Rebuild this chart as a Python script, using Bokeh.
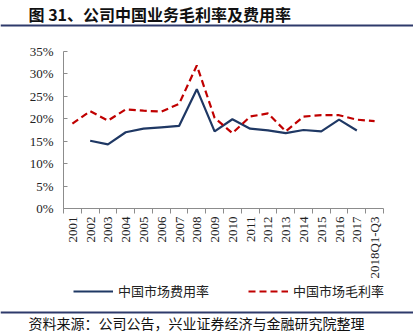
from bokeh.plotting import figure
from bokeh.layouts import column
from bokeh.models import (Range1d, FixedTicker, ColumnDataSource, Span,
                          PrintfTickFormatter, Label, Legend, LegendItem)
from bokeh.embed import file_html
from bokeh.resources import INLINE
from math import pi

# ---- data ----
years = ["2001", "2002", "2003", "2004", "2005", "2006", "2007", "2008", "2009",
         "2010", "2011", "2012", "2013", "2014", "2015", "2016", "2017", "2018Q1-Q3"]
gross_margin = [18.9, 21.7, 19.6, 22.1, 21.8, 21.6, 23.3, 31.9, 20.2,
                16.8, 20.5, 21.2, 17.2, 20.5, 20.8, 20.8, 19.8, 19.5]
expense_years = ["2002", "2003", "2004", "2005", "2006", "2007", "2008", "2009",
                 "2010", "2011", "2012", "2013", "2014", "2015", "2016", "2017"]
expense_ratio = [15.1, 14.3, 17.0, 17.8, 18.1, 18.4, 26.6, 17.2,
                 19.9, 17.8, 17.4, 16.8, 17.5, 17.2, 19.8, 17.4]
y_ticks = [0, 5, 10, 15, 20, 25, 30, 35]

title_text = "图 31、公司中国业务毛利率及费用率"
footer_text = "资料来源：公司公告，兴业证券经济与金融研究院整理"
expense_name = "中国市场费用率"
margin_name = "中国市场毛利率"

BLUE = "#1F3864"
RED = "#C00000"
GRAY = "#8C8C8C"
RULE = "#2E3A6B"
SERIF = "Liberation Serif"
CJK = "Noto Sans CJK SC"
W = 413
EXP_STYLE = dict(line_color=BLUE, line_width=2.2)
GM_STYLE = dict(line_color=RED, line_width=2.2, line_dash="7 4")
NAN = float("nan")


def blank(height):
    f = figure(width=W, height=height, x_range=Range1d(0, W), y_range=Range1d(height, 0),
               output_backend="svg", toolbar_location=None,
               x_axis_location=None, y_axis_location=None,
               min_border_left=0, min_border_right=0,
               min_border_top=0, min_border_bottom=0, frame_align=False)
    f.outline_line_color = None
    f.xgrid.visible = False
    f.ygrid.visible = False
    return f


# ---- header: title + rule ----
top = blank(40)
top.add_layout(Label(x=28, y=13, text=title_text, text_font=CJK, text_font_style="bold",
                     text_font_size="16px", text_color="#111111", text_baseline="middle"))
top.add_layout(Span(location=25, dimension="width", line_color=RULE, line_width=2))

# ---- main chart ----
slot = {y: i + 0.5 for i, y in enumerate(years)}
src_gm = ColumnDataSource(dict(x=[slot[y] for y in years], y=gross_margin))
src_exp = ColumnDataSource(dict(x=[slot[y] for y in expense_years], y=expense_ratio))

p = figure(width=W, height=244, x_range=Range1d(0, len(years)), y_range=Range1d(0, 35),
           output_backend="svg", toolbar_location=None, frame_align=False,
           min_border_left=63, min_border_right=30, min_border_top=11, min_border_bottom=76)
p.outline_line_color = None
p.xgrid.visible = False
p.ygrid.visible = False

ya = p.yaxis[0]
ya.ticker = FixedTicker(ticks=y_ticks)
ya.formatter = PrintfTickFormatter(format="%d%%")
ya.axis_line_color = GRAY
ya.major_tick_line_color = GRAY
ya.major_tick_in = 4
ya.major_tick_out = 0
ya.minor_tick_line_color = None
ya.major_label_text_font = SERIF
ya.major_label_text_font_size = "13px"
ya.major_label_text_color = "#222222"
ya.major_label_standoff = 10

xa = p.xaxis[0]
xa.ticker = FixedTicker(ticks=[slot[y] for y in years],
                        minor_ticks=list(range(len(years) + 1)))
xa.major_label_overrides = {slot[y]: y for y in years}
xa.axis_line_color = GRAY
xa.major_tick_line_color = None
xa.major_tick_in = 0
xa.major_tick_out = 5
xa.minor_tick_line_color = GRAY
xa.minor_tick_in = 0
xa.minor_tick_out = 5
xa.major_label_orientation = pi / 2
xa.major_label_standoff = 3
xa.major_label_text_font = SERIF
xa.major_label_text_font_size = "13px"
xa.major_label_text_color = "#222222"

p.line("x", "y", source=src_exp, **EXP_STYLE)
p.line("x", "y", source=src_gm, **GM_STYLE)

# ---- legend strip (key samples share the series styles; they draw no data) ----
leg = blank(26)
k_exp = leg.line([NAN, NAN], [NAN, NAN], **EXP_STYLE)
k_gm = leg.line([NAN, NAN], [NAN, NAN], **GM_STYLE)
legend = Legend(items=[LegendItem(label=expense_name, renderers=[k_exp]),
                       LegendItem(label=margin_name, renderers=[k_gm])],
                orientation="horizontal", location=(73, 10),
                glyph_width=40, glyph_height=16, label_height=16, label_standoff=5, spacing=39,
                padding=0, margin=0, border_line_color=None, background_fill_alpha=0,
                label_text_font=CJK, label_text_font_size="13px", label_text_color="#222222")
leg.add_layout(legend, "center")

# ---- footer: rule + source ----
bottom = blank(26)
bottom.add_layout(Span(location=2, dimension="width", line_color=RULE, line_width=2))
bottom.add_layout(Label(x=28, y=12, text=footer_text, text_font=CJK, text_font_size="14px",
                        text_color="#111111", text_baseline="middle"))

layout = column(top, p, leg, bottom, spacing=0)
open("out.html", "w").write(file_html(layout, INLINE))
